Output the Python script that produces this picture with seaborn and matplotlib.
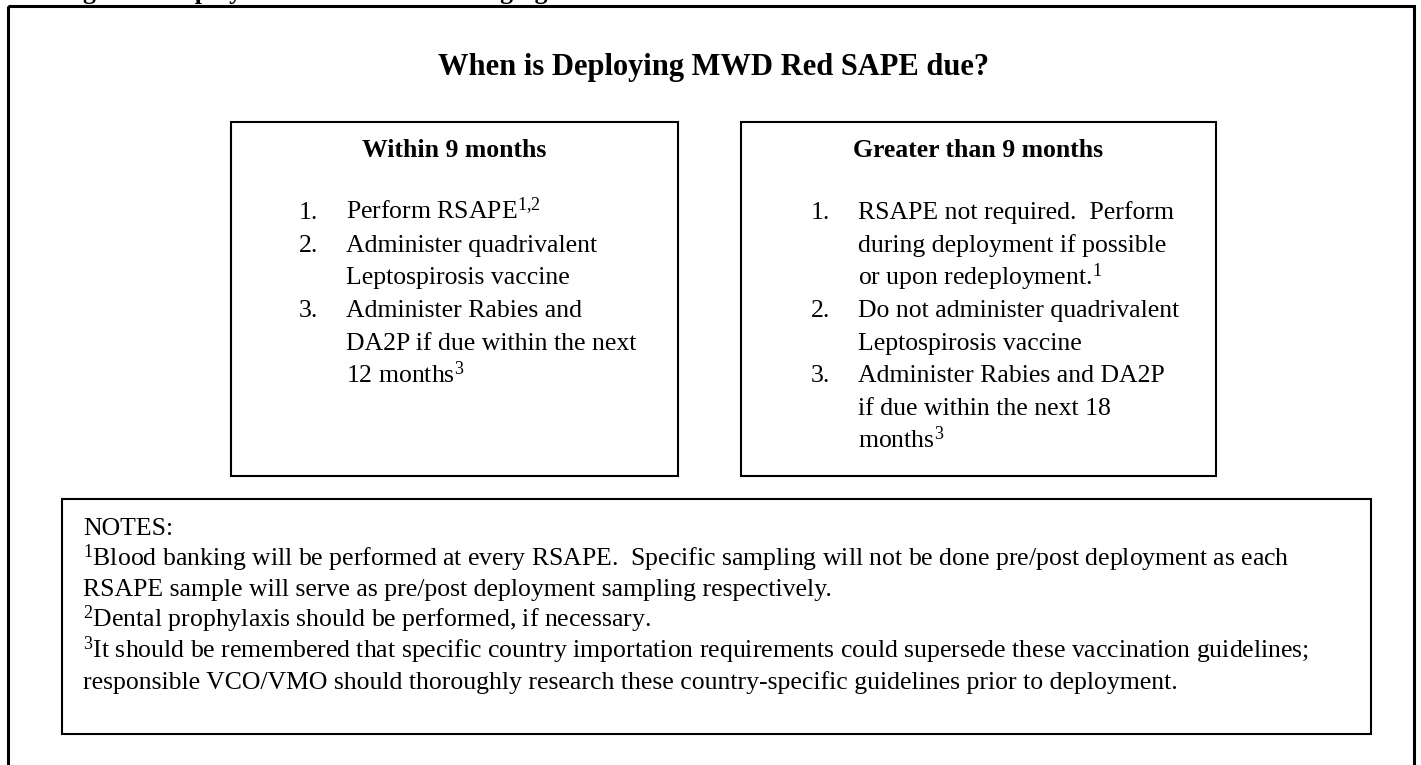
import matplotlib
matplotlib.use("Agg")
import matplotlib.pyplot as plt
from matplotlib.patches import Rectangle
import seaborn as sns

# ---- content ----
caption = "Figure 1. Deployment Vaccination Changing Guidelines"
title = "When is Deploying MWD Red SAPE due?"
left_heading = "Within 9 months"
right_heading = "Greater than 9 months"
left_numbers = ["1.", "2.", "3."]
left_items = [
    [r"Perform RSAPE$^{\mathrm{1{,}2}}$"],
    ["Administer quadrivalent", "Leptospirosis vaccine"],
    ["Administer Rabies and", "DA2P if due within the next", r"12 months$^{\mathrm{3}}$"],
]
right_numbers = ["1.", "2.", "3."]
right_items = [
    ["RSAPE not required.  Perform", "during deployment if possible", r"or upon redeployment.$^{\mathrm{1}}$"],
    ["Do not administer quadrivalent", "Leptospirosis vaccine"],
    ["Administer Rabies and DA2P", "if due within the next 18", r"months$^{\mathrm{3}}$"],
]
notes_lines = [
    "NOTES:",
    r"$^{\mathrm{1}}$Blood banking will be performed at every RSAPE.  Specific sampling will not be done pre/post deployment as each",
    "RSAPE sample will serve as pre/post deployment sampling respectively.",
    r"$^{\mathrm{2}}$Dental prophylaxis should be performed, if necessary.",
    r"$^{\mathrm{3}}$It should be remembered that specific country importation requirements could supersede these vaccination guidelines;",
    "responsible VCO/VMO should thoroughly research these country-specific guidelines prior to deployment.",
]

# ---- style ----
sns.set_theme(style="white")
plt.rcParams["font.family"] = ["Liberation Serif", "DejaVu Serif"]
plt.rcParams["mathtext.fontset"] = "custom"
plt.rcParams["mathtext.rm"] = "Liberation Serif"
plt.rcParams["mathtext.it"] = "Liberation Serif:italic"
plt.rcParams["mathtext.bf"] = "Liberation Serif:bold"

W, H = 1421, 765
fig = plt.figure(figsize=(W / 100, H / 100), dpi=100)
fig.patch.set_facecolor("white")
ax = fig.add_axes([0, 0, 1, 1])
ax.set_xlim(0, W)
ax.set_ylim(H, 0)
ax.axis("off")

BODY = 18.5
HEAD = 18.5
TITLE = 22
LINE = 32.7

# caption of the page, clipped by the top edge as in the source
ax.text(60, -1, caption, fontsize=BODY, fontweight="bold", va="baseline", ha="left", color="black")

# outer frame
ax.add_patch(Rectangle((8, 6), 1406, 820, fill=False, lw=2.2, edgecolor="black"))

# title
ax.text(714, 75, title, fontsize=TITLE, fontweight="bold", ha="center", va="baseline", color="black")

# two option boxes
boxes = [
    (231, 678, left_heading, left_numbers, left_items, 299, 346),
    (741, 1216, right_heading, right_numbers, right_items, 811, 858),
]
for x0, x1, heading, nums, items, xnum, xtxt in boxes:
    ax.add_patch(Rectangle((x0, 122), x1 - x0, 476 - 122, fill=False, lw=1.5, edgecolor="black"))
    ax.text((x0 + x1) / 2, 157, heading, fontsize=HEAD, fontweight="bold", ha="center", va="baseline", color="black")
    y = 219
    for num, lines in zip(nums, items):
        ax.text(xnum, y, num, fontsize=BODY, ha="left", va="baseline", color="black")
        for ln in lines:
            ax.text(xtxt, y, ln, fontsize=BODY, ha="left", va="baseline", color="black")
            y += LINE

# notes box
ax.add_patch(Rectangle((62, 499), 1371 - 62, 734 - 499, fill=False, lw=1.5, edgecolor="black"))
y = 535
for ln in notes_lines:
    ax.text(83, y, ln, fontsize=BODY, ha="left", va="baseline", color="black")
    y += 30.7

fig.savefig("out.png", dpi=100, facecolor="white")
